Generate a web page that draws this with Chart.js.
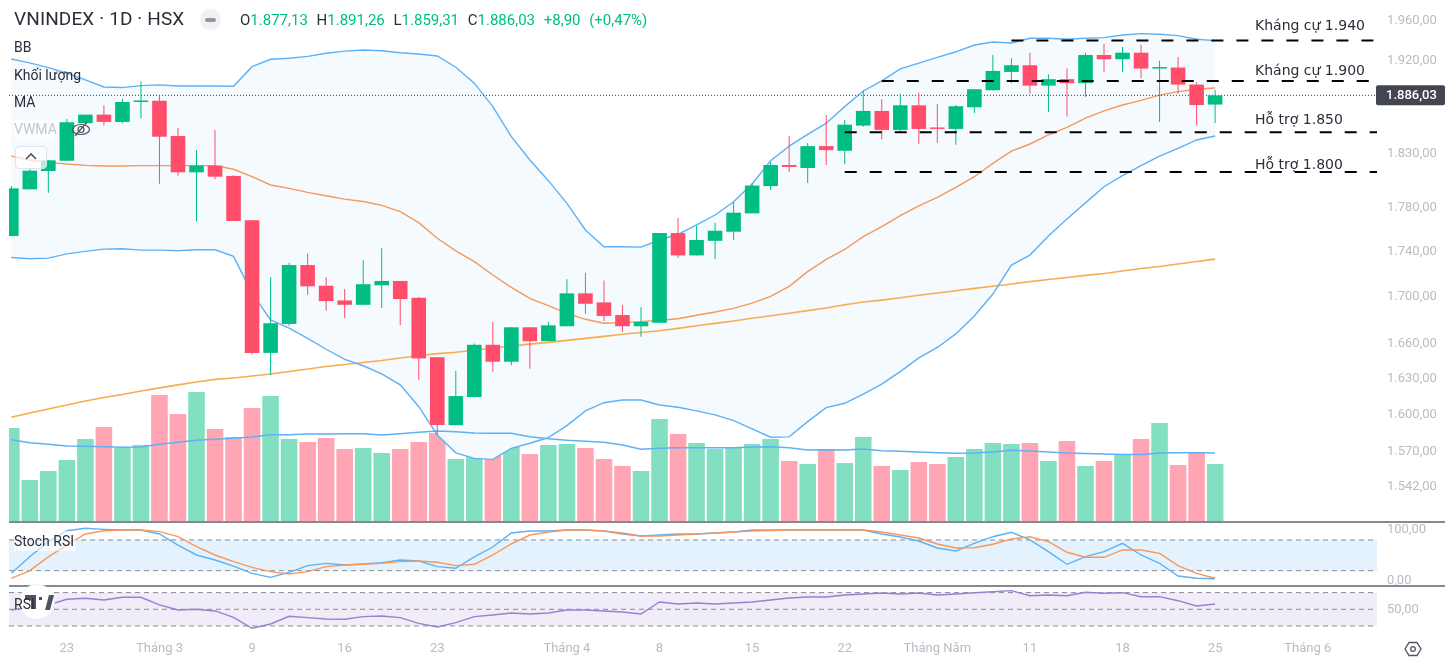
<!DOCTYPE html>
<html lang="vi">
<head>
<meta charset="utf-8">
<title>VNINDEX 1D</title>
<script src="https://cdn.jsdelivr.net/npm/chart.js@4/dist/chart.umd.min.js"></script>
<style>
  html, body { margin: 0; padding: 0; background: #fff; overflow: hidden; }
  body { position: relative; width: 1456px; height: 657px; font-family: Roboto, sans-serif; color: #2a2e39; }
  canvas { position: absolute; left: 0; }
  #mainChart { top: 0; }
  #stochChart { top: 522px; }
  #rsiChart { top: 586px; }
  .divider { position: absolute; left: 9px; width: 1436px; height: 2px; background: #87898f; }
  .label { position: absolute; left: 14px; font-size: 14px; line-height: 20px; padding-right: 2px; white-space: nowrap; }
  .faded { background: rgba(255,255,255,.6); }
  #title { position: absolute; left: 14px; top: 7px; font-size: 19px; letter-spacing: .12px; line-height: 24px; white-space: nowrap; }
  #ohlc { position: absolute; left: 240px; top: 10px; font-size: 15px; line-height: 20px; word-spacing: 5px; color: #00bd83; white-space: nowrap; }
  #ohlc b { font-weight: 400; color: #2a2e39; }
  #collapse { position: absolute; left: 15px; top: 146px; width: 30px; height: 21px; border: 1px solid #e0e3eb; border-radius: 4px; background: rgba(255,255,255,.7); }
  #minus { position: absolute; left: 200px; top: 9px; width: 21px; height: 21px; border-radius: 50%; background: #f0f1f3; }
  #minus i { position: absolute; left: 5px; top: 9px; width: 11px; height: 4px; border-radius: 2px; background: #9598a1; }
  svg { position: absolute; }
</style>
</head>
<body>
<canvas id="mainChart" width="1456" height="522"></canvas>
<canvas id="stochChart" width="1456" height="63"></canvas>
<canvas id="rsiChart" width="1456" height="71"></canvas>
<div class="divider" style="top:521px"></div>
<div class="divider" style="top:585px"></div>

<div id="title">VNINDEX · 1D · HSX</div>
<div id="minus"><i></i></div>
<div id="ohlc"><b>O</b>1.877,13 <b>H</b>1.891,26 <b>L</b>1.859,31 <b>C</b>1.886,03 +8,90 (+0,47%)</div>
<div class="label" style="top:37px">BB</div>
<div class="label" style="top:65px">Khối lượng</div>
<div class="label" style="top:92px">MA</div>
<div class="label faded" style="top:119px;color:#c3c6cc">VWMA</div>
<svg style="left:71px;top:120px" width="20" height="18" viewBox="0 0 20 18" fill="none" stroke="#50535e" stroke-width="1.2">
  <ellipse cx="10" cy="9.5" rx="8.5" ry="5"/><circle cx="10" cy="9.5" r="3"/><path d="M4 16L16 2"/>
</svg>
<div id="collapse"></div>
<svg style="left:23px;top:151px" width="16" height="10" viewBox="0 0 16 10" fill="none" stroke="#50535e" stroke-width="1.6"><path d="M3 8L8 3L13 8"/></svg>
<div class="label" style="top:531px;background:rgba(255,255,255,.6)">Stoch RSI</div>
<svg style="left:18px;top:584px" width="38" height="36" viewBox="0 0 38 36">
  <circle cx="19" cy="18" r="17.5" fill="#fff" stroke="#eceef2"/>
  <path d="M7 11h11v14h-5v-9H7z M21 13h3v3h-3z M27 26l4-15h5l-4 15z" fill="#50535e"/>
</svg>
<div class="label" style="top:594px">RSI</div>
<svg style="left:1404px;top:640px" width="18" height="18" viewBox="0 0 18 18" fill="none" stroke="#50535e" stroke-width="1.3">
  <path d="M5 2.5h8L17 9l-4 6.5H5L1 9z"/><circle cx="9" cy="9" r="2.3"/>
</svg>

<script>
// Daily candles
const candleOpen = [1754.3,1797,1814,1823.6,1859.2,1867.4,1860.4,1879.6,1880.8,1847,1812.8,1819,1809.4,1768.6,1651.9,1676.7,1728.3,1710,1697.1,1693.3,1710.4,1714.2,1699.4,1648.1,1591.6,1614.8,1658.8,1644.4,1673.8,1661.9,1674.7,1703.3,1695.4,1684.4,1674.7,1677.8,1757,1736.9,1750,1758.2,1774.9,1800,1819.6,1816.8,1837.4,1833,1856.9,1871,1852.8,1876.4,1855,1853.7,1874.5,1891,1908.9,1915.5,1895.5,1901.8,1897.9,1925.6,1921.4,1927.9,1912.2,1913.2,1896.5,1877.13];
const candleHigh = [1800,1815.6,1824.3,1863.3,1867.4,1876.4,1882.8,1899.8,1885.4,1854.7,1833.6,1852.5,1810,1768.6,1717.5,1730.4,1738.7,1717.5,1707.1,1732.5,1743.4,1714.2,1700,1648.5,1636.6,1660,1678.4,1674.1,1674.1,1678.4,1715.7,1721.5,1714.5,1693.1,1691.1,1757,1770.7,1763.7,1766.4,1785.2,1802.8,1822.4,1847,1840.3,1867.1,1862.3,1890.6,1882.2,1887.7,1888.7,1877.7,1876.7,1892,1925.6,1922.4,1927.9,1906.7,1912.2,1927.9,1936.8,1933.5,1935.8,1920,1923.6,1898.8,1891.26];
const candleLow = [1754.3,1797,1793.8,1823.6,1859.2,1856.9,1859.2,1863.6,1802.2,1809.6,1767.7,1806.3,1767.9,1650.8,1633.2,1675,1702.1,1688.2,1681.6,1693.3,1690.5,1675.8,1629,1582.8,1591.6,1614.8,1635.8,1641.4,1638.5,1661.9,1674.7,1685.6,1679.3,1669.8,1665.7,1677.8,1734.5,1736.9,1733.6,1751,1774.9,1796.3,1813.1,1802.8,1819.6,1820.3,1855.9,1843.9,1850.8,1839.6,1840.6,1838.7,1869,1891,1897.9,1887.7,1870,1865.5,1884.4,1908.9,1908.9,1902.8,1860.4,1887.7,1856.9,1859.31];
const candleClose = [1797.9,1814.3,1824,1860.1,1867.4,1860.4,1879.6,1880.8,1846.3,1812.8,1819,1808.7,1767.9,1651.9,1677.3,1728.3,1709.5,1696.5,1693.3,1711.3,1714.2,1698.3,1647.2,1591.8,1615.6,1658.8,1644.4,1673.8,1661.9,1675.5,1703.3,1694.2,1683.6,1674.7,1678.4,1757,1736.9,1750.7,1759.1,1775.5,1800.5,1819.6,1817.8,1837.4,1833.6,1857.8,1871,1852.8,1876.4,1853.7,1853.7,1875.5,1892,1909.9,1915.5,1895.5,1901.8,1897.9,1925.6,1921.4,1927.9,1912.2,1913.6,1896.5,1876.7,1886.03];

// Bollinger bands
const bbUpper = [1921.7,1917.8,1913.2,1907.7,1901.1,1894.2,1893.6,1895.5,1896.2,1895.2,1895.2,1895.2,1894.9,1914.1,1921.4,1922.4,1924.3,1927.3,1929.5,1930.5,1929.8,1927.9,1926.6,1924.6,1913.5,1897.9,1875.1,1846.3,1824.3,1805,1784,1759.8,1744.6,1744.6,1744.3,1750.7,1755.9,1764.3,1773.4,1785.5,1801.9,1823.6,1837.4,1848.6,1859.2,1875.1,1890.3,1900.1,1911.9,1917.5,1923.3,1928.8,1935.5,1938.6,1937.6,1942.3,1942.3,1941.3,1942.3,1942.9,1945.6,1946.9,1946.3,1944.9,1941.3,1939.9];
const bbBasis = [1828,1824.3,1822.1,1820.6,1819.3,1818.7,1818.7,1819,1819,1819,1819,1819,1815.6,1808.7,1801,1797.9,1794.2,1791,1787.9,1785.8,1782.2,1776.4,1766.4,1752.3,1741,1731.3,1719.5,1708.6,1698.9,1692.5,1685.9,1680.7,1677.3,1677.8,1678.7,1679.9,1681.2,1684.2,1687,1690.2,1694.8,1700.7,1709.5,1722.4,1733.4,1742.2,1753.7,1762.8,1772.9,1781.8,1789.5,1798.8,1808.7,1821.2,1832.7,1839.4,1848,1855.3,1864,1871,1876.7,1881.2,1886.3,1889.6,1892,1893.2];
const bbLower = [1735,1733.9,1734.5,1738.3,1740.5,1742.5,1742.8,1741.6,1741.6,1741,1741.9,1741.9,1736,1703.3,1680.1,1673,1664.3,1655,1646.4,1641,1634.1,1624.9,1606.8,1583.6,1569.1,1564.6,1563.8,1572.7,1576.8,1581.4,1591.2,1603.3,1610.1,1612.3,1612.3,1608.2,1606.3,1603.3,1600,1595.3,1588.5,1581.7,1582,1594.5,1606,1609.6,1617.3,1625.5,1636,1647.7,1656.5,1668.1,1683.6,1702.7,1728.3,1737.2,1754.3,1769.7,1784.5,1799.4,1809.6,1819,1828,1835.2,1843.2,1847];

// Long moving average
const maLong = [1598,1601.6,1604.9,1608.2,1611.5,1614.4,1616.9,1619.8,1622.4,1624.9,1627.4,1629.5,1630.7,1632.4,1634.1,1636.2,1638.3,1640.4,1642,1643.7,1645.4,1647.5,1649.4,1651.3,1652.5,1654.2,1655.9,1657.7,1659.4,1660.9,1662.6,1664.3,1666,1667.8,1669.3,1670.8,1672.9,1675.2,1677.2,1679.3,1681.6,1683.8,1685.9,1688.2,1690.5,1693.3,1695.7,1697.4,1699.4,1701.6,1703.6,1705.6,1707.7,1709.5,1711.5,1713.6,1715.5,1717.3,1719.1,1720.8,1723,1725.2,1727,1729.2,1731.4,1733.6];

// Volume in millions of shares, no axis in the picture so the unit is a guess
const volume = [940,420,510,620,830,950,740,770,1270,1080,1300,930,850,1140,1260,830,800,840,730,740,690,730,800,890,630,740,670,770,680,770,780,740,630,560,510,1030,880,790,730,740,780,830,610,580,730,590,850,560,520,600,580,650,730,790,780,790,610,810,560,610,670,830,990,570,700,580];
const volumeMa = [823,793,777,760,757,753,747,750,777,797,817,827,837,850,873,873,880,880,883,883,870,883,897,910,903,890,887,887,853,833,817,807,797,770,727,737,743,743,743,743,750,753,743,720,723,720,730,713,707,700,693,687,690,700,717,710,700,690,685,680,675,675,690,693,693,690];

// Oscillators
const stochK = [14.8,47,76.6,98,102.7,100.7,99.4,99.4,91.6,70,50.6,40.8,29,14.8,7,16.8,29.8,34.3,31,33,35.6,40.8,38.9,27.8,24.6,47,66.2,93.6,97.5,97.5,99.4,99.4,97.5,91.6,87.7,89.6,91.6,91.6,93.6,95.5,99.4,99.4,99.4,99.4,99.4,99.4,99.4,91.6,85.7,77.9,64.3,58.4,73.4,86.3,94.9,79.9,57,32.4,47.3,57,73.4,50.6,34.4,9.6,5.1,4.3];
const stochD = [5,20,47,70,91.6,98,99.4,99.4,96.2,86.4,66.9,50.6,37.6,26.5,18,13.5,18,27.8,31,32.4,34.3,37.6,38.9,36.3,29.8,32.4,50.6,72.1,89.6,95.5,99.4,99.4,97.5,93.6,87.7,87.7,89.6,91.6,93.6,95.5,97.5,98.4,99.4,99.4,99.4,99.4,99.4,95.5,89.6,83.8,72.1,64.3,64.8,71.5,81.8,86.3,76.6,55.9,46.1,46.1,60.4,60.4,53.9,29.7,14.8,5.1];
const rsi = [49.2,52.4,55.2,62,63.2,61.2,64.4,64.4,55.2,49.2,50,48,40.4,27.3,32.4,41.6,40,38.4,38,41.2,42,40,33.2,28.8,34,41.2,43.2,45.6,44.4,45.6,49.2,49.2,48,46.8,44.4,58.7,56.3,57.5,56.3,57.5,58.7,61.1,63.5,64.7,64.7,67.1,68.3,69.5,68.3,69.5,67.1,68.3,69.9,71.1,72.3,66.3,67.1,66.3,70.4,69.2,69.9,65.1,65.1,60.3,54,56.3];

// Axis ticks
const priceTicks = [1960,1920,1830,1780,1740,1700,1660,1630,1600,1570,1542];
const stochTicks = [100,0];
const rsiTicks = [50];
const xTickIndex = [3,8,13,18,23,30,35,40,45,50,55,60,65,70];
const xTickLabels = ["23","Tháng 3","9","16","23","Tháng 4","8","15","22","Tháng Năm","11","18","25","Tháng 6"];

// Hand drawn support and resistance lines
const levelNames = ["Kháng cự 1.940","Kháng cự 1.900","Hỗ trợ 1.850","Hỗ trợ 1.800"];
const levelPrices = [1940,1900,1850.5,1813];
const levelStart = [54,47,45,45];

const stochBands = [80,20];
const rsiBands = [70,50,30];

const GREEN = "#00bd83";
const RED = "#ff4d6a";
const GREEN_VOL = "#82dfc1";
const RED_VOL = "#ffa5b4";
const BLUE = "#5eb1f5";
const ORANGE = "#f9975a";
const TICK = "#b9bcc5";
const TICK_FONT = { family: "Roboto", size: 13 };

const X_MIN = -0.124;
const X_MAX = 73.74;
const isUp = (i) => candleClose[i] >= candleOpen[i];
const points = (arr) => arr.map((v, i) => ({ x: i, y: v }));
const decimal = new Intl.NumberFormat("de-DE", { minimumFractionDigits: 2, maximumFractionDigits: 2 });

function line(values, color, yAxisID, order, extra) {
  return Object.assign({
    type: "line", data: points(values), borderColor: color, borderWidth: 1.4,
    pointRadius: 0, tension: 0, yAxisID, order, fill: false
  }, extra);
}

function flatLine(value, yAxisID, order, extra) {
  return Object.assign({
    type: "line", data: [{ x: X_MIN, y: value }, { x: X_MAX, y: value }],
    borderColor: "#8a8c92", borderWidth: 1, borderDash: [5, 4],
    pointRadius: 0, yAxisID, order, fill: false
  }, extra);
}

function yAxis(ticksList, min, max, type) {
  return {
    type: type || "linear", position: "right", min, max,
    grid: { display: false }, border: { display: false },
    afterBuildTicks: (s) => { s.ticks = ticksList.map((v) => ({ value: v })); },
    afterFit: (s) => { s.width = 79; s.paddingTop = 0; s.paddingBottom = 0; },
    ticks: {
      color: TICK, font: TICK_FONT, padding: 2, autoSkip: false,
      callback: (v) => decimal.format(v)
    }
  };
}

function xAxis(showLabels) {
  return {
    type: "linear", min: X_MIN, max: X_MAX, display: showLabels, offset: false,
    grid: { display: false }, border: { display: false },
    afterBuildTicks: (s) => { s.ticks = xTickIndex.map((v) => ({ value: v })); },
    afterFit: (s) => { s.height = showLabels ? 24 : 0; s.paddingLeft = 0; s.paddingRight = 0; },
    ticks: {
      color: TICK, font: TICK_FONT, padding: 0, autoSkip: false, maxRotation: 0,
      callback: (v) => xTickLabels[xTickIndex.indexOf(v)]
    }
  };
}

const baseOptions = {
  responsive: false, animation: false, events: [],
  layout: { padding: { left: 9 } },
  plugins: { legend: { display: false }, tooltip: { enabled: false } }
};

// Labels for the level lines and the tag with the last price
const priceNotes = {
  id: "priceNotes",
  afterDatasetsDraw(chart) {
    const { ctx, scales } = chart;
    const gaps = [14, 10, 11.5, 7];
    ctx.save();
    ctx.font = "14px 'DejaVu Sans'";
    ctx.fillStyle = "#2a2e39";
    ctx.textAlign = "left";
    ctx.textBaseline = "middle";
    levelNames.forEach((name, i) => {
      ctx.fillText(name, 1255, scales.y.getPixelForValue(levelPrices[i]) - gaps[i]);
    });
    const last = candleClose[candleClose.length - 1];
    const y = scales.y.getPixelForValue(last);
    ctx.fillStyle = "#434651";
    ctx.beginPath();
    ctx.roundRect(1376, y - 10, 69, 20, 2);
    ctx.fill();
    ctx.fillStyle = "#fff";
    ctx.font = "500 13px Roboto";
    ctx.fillText(decimal.format(last), 1386, y + 0.5);
    ctx.restore();
  }
};

const levelLines = levelPrices.map((price, i) => ({
  type: "line", data: [{ x: levelStart[i], y: price }, { x: X_MAX, y: price }],
  borderColor: "#000", borderWidth: 2, borderDash: [12, 13],
  pointRadius: 0, yAxisID: "y", order: 1, fill: false
}));

new Chart(document.getElementById("mainChart"), {
  type: "bar",
  data: {
    datasets: [
      {
        data: volume.map((v, i) => ({ x: i, y: v })), yAxisID: "yVol", order: 9,
        backgroundColor: volume.map((v, i) => (isUp(i) ? GREEN_VOL : RED_VOL)),
        barThickness: 16.6, grouped: false, inflateAmount: 0
      },
      line(volumeMa, BLUE, "yVol", 7),
      line(bbUpper, BLUE, "y", 8, { fill: { target: 4, above: "#f4fafe", below: "#f4fafe" } }),
      line(bbBasis, ORANGE, "y", 5),
      line(bbLower, BLUE, "y", 5),
      line(maLong, "#f7ad4f", "y", 6, { borderWidth: 1.6 }),
      {
        type: "line", data: [{ x: X_MIN, y: candleClose[65] }, { x: X_MAX, y: candleClose[65] }],
        borderColor: "#3c3f48", borderWidth: 1, borderDash: [1, 2], pointRadius: 0,
        yAxisID: "y", order: 4, fill: false
      },
      {
        data: candleLow.map((low, i) => ({ x: i, y: [low, candleHigh[i]] })), yAxisID: "y", order: 3,
        backgroundColor: candleLow.map((v, i) => (isUp(i) ? GREEN : RED)),
        barThickness: 1, grouped: false, inflateAmount: 0
      },
      {
        data: candleOpen.map((open, i) => ({ x: i, y: [open, candleClose[i]] })), yAxisID: "y", order: 2,
        backgroundColor: candleOpen.map((v, i) => (isUp(i) ? GREEN : RED)),
        barThickness: 14.6, grouped: false, inflateAmount: 0, minBarLength: 1.5
      },
      ...levelLines
    ]
  },
  options: {
    ...baseOptions,
    scales: {
      x: xAxis(false),
      y: yAxis(priceTicks, 1514.2, 1980.9, "logarithmic"),
      yVol: { display: false, min: 0, max: 5220 }
    }
  },
  plugins: [priceNotes]
});

new Chart(document.getElementById("stochChart"), {
  type: "line",
  data: {
    datasets: [
      flatLine(stochBands[0], "y", 5, { fill: { target: "+1", above: "#e4f2fd", below: "#e4f2fd" } }),
      flatLine(stochBands[1], "y", 4),
      line(stochK, BLUE, "y", 2),
      line(stochD, ORANGE, "y", 1)
    ]
  },
  options: { ...baseOptions, scales: { x: xAxis(false), y: yAxis(stochTicks, -8, 115) } }
});

new Chart(document.getElementById("rsiChart"), {
  type: "line",
  data: {
    datasets: [
      flatLine(rsiBands[0], "y", 5, { fill: { target: 2, above: "#f0ecf8", below: "#f0ecf8" } }),
      flatLine(rsiBands[1], "y", 4),
      flatLine(rsiBands[2], "y", 4),
      line(rsi, "#9b7fd1", "y", 1)
    ]
  },
  options: { ...baseOptions, scales: { x: xAxis(true), y: yAxis(rsiTicks, 21.6, 77.9) } }
});
</script>
</body>
</html>
